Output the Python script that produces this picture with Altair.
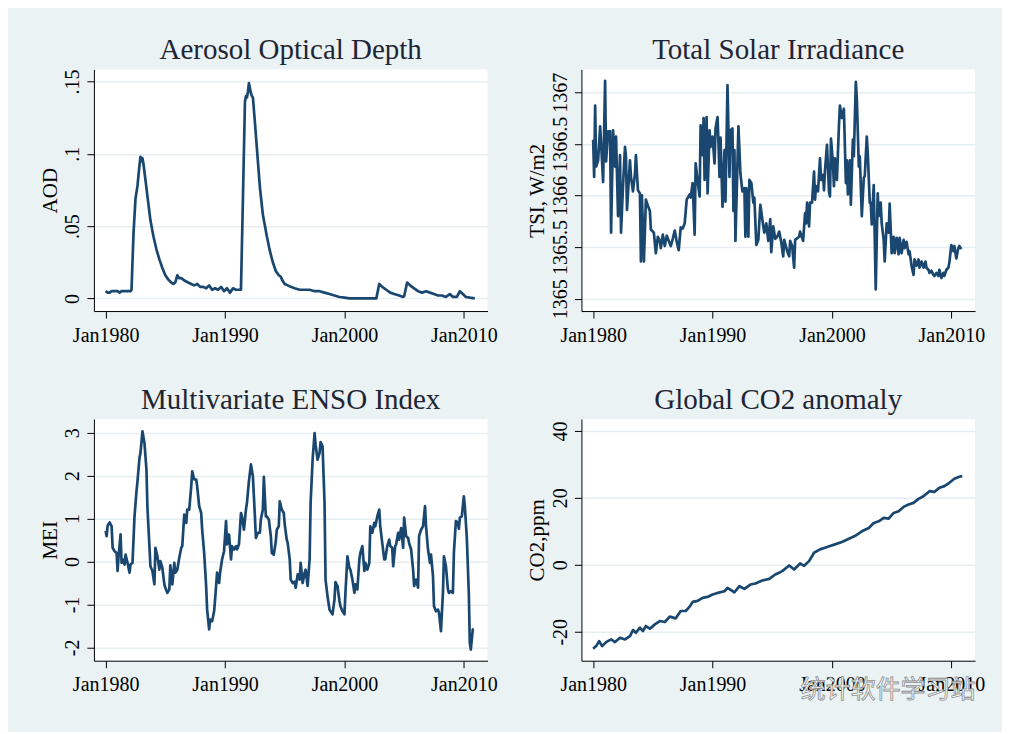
import altair as alt
import pandas as pd

# ---------------- data (month index: 0 = Jan1980) ----------------
AOD_T = [0, 2, 4, 6, 9, 12, 14, 16, 19, 22, 25, 26, 28, 30, 32, 34, 35, 36, 37, 38, 40, 43, 45, 48, 51,
         54, 57, 60, 63, 66, 68, 70, 72, 74, 76, 78, 80, 83, 86, 89, 92, 95, 98, 101, 104, 107, 110, 113,
         116, 119, 122, 125, 128, 131, 134, 136, 138, 140, 141, 142, 143, 144, 146, 147, 148, 150, 152,
         155, 158, 162, 165, 168, 171, 174, 176, 178, 180, 183, 186, 190, 195, 200, 205, 210, 215, 220,
         225, 230, 235, 240, 245, 255, 265, 272, 275, 278, 282, 286, 290, 295, 299, 300, 303, 306, 310,
         314, 318, 322, 326, 330, 334, 338, 342, 346, 349, 353, 356, 359, 362, 366, 371]
AOD_V = [0.005, 0.004, 0.004, 0.005, 0.005, 0.005, 0.004, 0.005, 0.005, 0.005, 0.005, 0.006, 0.045,
         0.069, 0.078, 0.092, 0.098, 0.095, 0.097, 0.093, 0.082, 0.065, 0.054, 0.043, 0.034, 0.027,
         0.021, 0.016, 0.013, 0.011, 0.010, 0.011, 0.016, 0.014, 0.014, 0.013, 0.012, 0.011, 0.010,
         0.009, 0.010, 0.008, 0.008, 0.007, 0.009, 0.006, 0.007, 0.006, 0.008, 0.005, 0.007, 0.004,
         0.007, 0.006, 0.006, 0.006, 0.070, 0.136, 0.140, 0.139, 0.143, 0.149, 0.142, 0.140, 0.139,
         0.122, 0.104, 0.077, 0.058, 0.043, 0.033, 0.025, 0.019, 0.016, 0.015, 0.012, 0.010, 0.009,
         0.008, 0.007, 0.006, 0.006, 0.006, 0.005, 0.005, 0.004, 0.003, 0.002, 0.001, 0.0005, 0.0,
         0.0, 0.0, 0.0, 0.010, 0.008, 0.006, 0.004, 0.003, 0.002, 0.001, 0.0015, 0.011, 0.009, 0.007,
         0.005, 0.004, 0.005, 0.004, 0.003, 0.002, 0.002, 0.001, 0.003, 0.001, 0.001, 0.005, 0.003,
         0.001, 0.0005, 0.0]

TSI_T = [0, 1, 2, 3, 5, 7, 8, 10, 12, 13, 15, 17, 18, 20, 22, 23, 25, 27, 28, 30, 32, 33, 34, 37, 38,
         40, 42, 43, 45, 47, 48, 49, 51, 53, 55, 57, 58, 61, 63, 65, 67, 68, 70, 72, 74, 76, 78, 80, 82,
         84, 86, 88, 90, 92, 94, 97, 98, 100, 102, 103, 105, 107, 108, 110, 111, 112, 114, 115, 117,
         118, 120, 122, 123, 125, 126, 127, 128, 130, 132, 133, 135, 137, 138, 140, 141, 142, 143, 146,
         148, 150, 152, 153, 154, 156, 157, 159, 161, 162, 164, 166, 168, 171, 172, 174, 176, 178, 179,
         181, 183, 185, 187, 189, 191, 192, 195, 197, 198, 200, 202, 203, 207, 208, 211, 213, 214, 215,
         217, 218, 220, 222, 223, 224, 226, 228, 229, 231, 232, 233, 235, 237, 238, 239, 241, 242, 243,
         245, 247, 248, 250, 251, 252, 254, 255, 256, 258, 259, 261, 262, 264, 265, 267, 268, 270, 272,
         273, 275, 276, 278, 279, 280, 282, 284, 286, 287, 289, 290, 292, 293, 295, 297, 298, 300, 302,
         303, 305, 307, 308, 310, 312, 313, 315, 317, 318, 320, 322, 323, 325, 327, 328, 330, 332, 334,
         335, 337, 338, 340, 342, 343, 345, 347, 348, 350, 352, 353, 355, 357, 358, 360, 362, 363, 365,
         367, 368, 370]
TSI_V = [1366.54, 1366.18, 1366.87, 1366.28, 1366.34, 1366.67, 1366.50, 1366.13, 1367.11, 1366.33,
         1366.62, 1366.62, 1365.64, 1366.63, 1366.28, 1366.57, 1365.80, 1366.39, 1365.64, 1366.09,
         1366.47, 1366.37, 1365.86, 1366.34, 1366.18, 1366.04, 1366.21, 1366.39, 1366.05, 1366.02,
         1365.36, 1366.00, 1365.36, 1365.96, 1365.90, 1365.85, 1365.67, 1365.64, 1365.44, 1365.60,
         1365.56, 1365.49, 1365.62, 1365.51, 1365.61, 1365.56, 1365.51, 1365.58, 1365.66, 1365.55,
         1365.47, 1365.69, 1365.68, 1365.73, 1365.96, 1366.01, 1365.98, 1366.12, 1365.62, 1366.31,
         1366.14, 1365.99, 1366.68, 1366.39, 1366.75, 1366.15, 1366.76, 1366.02, 1366.63, 1366.47,
         1366.57, 1366.31, 1366.65, 1366.76, 1366.50, 1366.18, 1366.56, 1365.89, 1366.44, 1365.94,
         1367.07, 1366.18, 1366.63, 1366.65, 1365.85, 1366.44, 1365.56, 1366.67, 1366.21, 1366.04,
         1366.07, 1365.60, 1366.07, 1365.60, 1366.15, 1366.12, 1365.93, 1365.98, 1365.52, 1365.57,
         1365.91, 1365.70, 1365.64, 1365.73, 1365.56, 1365.77, 1365.45, 1365.70, 1365.58, 1365.60,
         1365.65, 1365.55, 1365.41, 1365.57, 1365.46, 1365.41, 1365.56, 1365.51, 1365.30, 1365.57,
         1365.60, 1365.65, 1365.56, 1365.83, 1365.73, 1365.93, 1365.70, 1365.93, 1365.93, 1366.23,
         1365.96, 1366.09, 1366.04, 1366.36, 1366.15, 1366.20, 1366.05, 1366.24, 1366.49, 1366.04,
         1365.99, 1366.55, 1366.31, 1366.09, 1366.36, 1366.15, 1366.67, 1366.87, 1366.75, 1366.79,
         1366.84, 1366.12, 1366.34, 1366.01, 1366.34, 1365.91, 1366.54, 1366.38, 1367.10, 1366.94,
         1366.28, 1366.38, 1365.80, 1366.17, 1366.19, 1366.57, 1366.41, 1365.93, 1365.93, 1365.72,
         1366.10, 1365.09, 1366.02, 1365.80, 1365.93, 1365.73, 1365.57, 1365.36, 1365.73, 1365.64,
         1365.92, 1365.44, 1365.60, 1365.44, 1365.59, 1365.43, 1365.59, 1365.44, 1365.57, 1365.49,
         1365.55, 1365.43, 1365.46, 1365.32, 1365.23, 1365.38, 1365.32, 1365.38, 1365.30, 1365.36,
         1365.30, 1365.36, 1365.30, 1365.28, 1365.25, 1365.27, 1365.23, 1365.22, 1365.25, 1365.22,
         1365.28, 1365.20, 1365.25, 1365.22, 1365.28, 1365.30, 1365.35, 1365.52, 1365.46, 1365.51,
         1365.39, 1365.49, 1365.51, 1365.48]

MEI_T = [0, 1, 2, 4, 6, 7, 9, 11, 12, 13, 15, 16, 17, 19, 20, 22, 24, 25, 27, 29, 31, 32, 34, 35, 37,
         39, 41, 42, 44, 45, 47, 49, 50, 52, 54, 55, 57, 59, 60, 62, 64, 65, 67, 69, 70, 72, 74, 76, 77,
         79, 81, 82, 84, 86, 87, 89, 91, 92, 94, 96, 97, 99, 101, 102, 104, 105, 107, 109, 110, 112,
         114, 115, 117, 119, 121, 122, 124, 126, 127, 129, 131, 132, 134, 136, 137, 139, 141, 142, 144,
         146, 148, 150, 151, 153, 155, 156, 158, 159, 161, 162, 164, 166, 167, 169, 171, 172, 174, 175,
         177, 179, 180, 182, 183, 185, 186, 188, 190, 191, 193, 195, 196, 198, 200, 201, 203, 205, 206,
         208, 210, 211, 213, 215, 216, 218, 220, 221, 223, 225, 226, 228, 230, 231, 233, 235, 236, 238,
         240, 241, 243, 245, 246, 248, 250, 251, 253, 255, 256, 258, 260, 261, 263, 265, 266, 268, 270,
         271, 273, 275, 276, 278, 280, 281, 283, 285, 286, 288, 289, 291, 292, 294, 295, 297, 299, 300,
         302, 304, 305, 307, 309, 310, 312, 314, 315, 317, 319, 321, 322, 324, 326, 327, 329, 330, 332,
         334, 335, 337, 339, 340, 342, 344, 345, 347, 349, 350, 352, 354, 355, 356, 358, 360, 361, 363,
         365, 366, 367, 369, 370]
MEI_V = [0.71, 0.59, 0.84, 0.91, 0.82, 0.32, 0.24, 0.20, -0.22, 0.12, 0.63, -0.03, 0.05, -0.07, 0.16,
         -0.03, -0.26, -0.07, -0.03, 1.05, 1.64, 1.87, 2.41, 2.53, 3.03, 2.76, 2.14, 1.25, 0.36, -0.11,
         -0.22, -0.53, 0.32, 0.12, -0.19, 0.01, -0.15, -0.53, -0.61, -0.73, -0.65, -0.09, -0.53, -0.03,
         -0.26, -0.19, 0.09, 0.32, 0.36, 1.09, 0.90, 1.21, 1.21, 1.75, 2.10, 1.91, 1.91, 1.75, 1.29,
         1.13, 0.74, 0.20, -0.57, -1.12, -1.58, -1.35, -1.39, -1.16, -0.88, -0.26, -0.50, -0.26, 0.05,
         0.24, 0.94, 0.40, 0.63, 0.05, 0.36, 0.28, 0.36, 0.28, 0.40, 1.13, 1.05, 0.74, 1.21, 1.36, 1.87,
         2.26, 1.98, 1.05, 0.55, 0.67, 0.67, 0.98, 1.21, 1.97, 1.05, 1.05, 0.98, 0.59, 0.20, 0.16, 0.47,
         0.74, 0.82, 1.40, 1.21, 1.13, 0.86, 0.51, 0.43, 0.05, -0.42, -0.50, -0.47, -0.61, -0.30, -0.42,
         -0.03, -0.50, -0.26, -0.19, -0.57, 0.05, 1.36, 2.37, 2.99, 2.72, 2.37, 2.53, 2.78, 2.68, 1.36,
         -0.42, -0.81, -1.12, -1.16, -1.23, -0.88, -0.48, -0.57, -0.92, -1.04, -1.16, -1.23, -0.73,
         0.12, -0.15, -0.19, -0.42, -0.73, -0.53, -0.65, 0.05, 0.20, 0.36, -0.22, -0.03, -0.19, -0.03,
         0.82, 0.67, 0.90, 0.82, 1.05, 1.21, 0.82, 0.43, 0.05, 0.05, 0.36, 0.51, 0.36, 0.32, -0.11, 0.36,
         0.40, 0.67, 0.51, 0.78, 0.32, 1.02, 0.59, 0.55, 0.43, 0.28, -0.19, -0.57, -0.42, -0.61, 0.59,
         0.74, 0.82, 1.29, 0.82, 0.28, -0.03, 0.16, -0.34, -1.04, -1.16, -1.12, -1.19, -1.62, -0.73,
         0.12, -0.11, -0.65, -0.73, -0.69, -0.73, 0.20, 0.94, 0.90, 0.76, 1.02, 1.05, 1.52, 1.29, 0.55,
         -0.73, -1.89, -2.05, -1.58, -1.57]

CO2_T = [0, 3, 6, 9, 13, 18, 22, 27, 32, 37, 40, 43, 47, 50, 53, 57, 62, 67, 72, 77, 83, 88, 93, 97,
         100, 105, 110, 115, 120, 125, 132, 135, 142, 147, 152, 158, 163, 170, 177, 183, 188, 190, 197,
         202, 208, 212, 217, 222, 228, 233, 238, 243, 250, 257, 263, 270, 277, 282, 287, 292, 297, 302,
         307, 312, 317, 322, 327, 332, 338, 343, 348, 353, 358, 363, 368, 371]
CO2_V = [-25.1, -24.3, -22.8, -24.3, -23.1, -22.3, -23.1, -21.8, -22.3, -21.3, -19.5, -20.3, -18.8,
         -19.8, -18.3, -19.1, -17.8, -16.8, -17.1, -15.5, -16.0, -13.8, -13.8, -12.5, -11.1, -10.8,
         -9.9, -9.6, -8.9, -8.4, -7.9, -6.9, -8.2, -6.4, -7.2, -5.9, -5.6, -4.7, -4.2, -2.9, -2.2, -1.9,
         -0.2, -1.4, 0.4, -0.3, 1.1, 3.6, 4.6, 5.1, 5.6, 6.1, 6.8, 7.8, 8.6, 10.0, 11.0, 12.5, 13.0,
         14.0, 13.8, 15.5, 16.0, 17.3, 18.0, 18.5, 19.7, 20.5, 22.0, 21.8, 23.0, 23.5, 24.5, 25.7,
         26.3, 26.5]

X_TICKS = [0, 120, 240, 360]
X_LABELS = ["Jan1980", "Jan1990", "Jan2000", "Jan2010"]

TITLES = ["Aerosol Optical Depth", "Total Solar Irradiance", "Multivariate ENSO Index", "Global CO2 anomaly"]
Y_TITLES = ["AOD", "TSI, W/m2", "MEI", "CO2,ppm"]
AOD_TICKS = [0, 0.05, 0.1, 0.15]
AOD_LABELS = ["0", ".05", ".1", ".15"]
TSI_TICKS = [1365, 1365.5, 1366, 1366.5, 1367]
TSI_LABELS = ["1365", "1365.5", "1366", "1366.5", "1367"]
MEI_TICKS = [-2, -1, 0, 1, 2, 3]
MEI_LABELS = ["-2", "-1", "0", "1", "2", "3"]
CO2_TICKS = [-20, 0, 20, 40]
CO2_LABELS = ["-20", "0", "20", "40"]
WATERMARK = ["统计软件学习站"]

# ---------------- style ----------------
BG = "#eaf2f3"
GRID = "#e6eef1"
LINE = "#1a476f"
SERIF = "Liberation Serif"
TITLE_COLOR = "#1e2536"
W = 394
H = 242
X_DOMAIN = [-11.8, 383.8]


def label_expr(values, labels):
    expr = "''"
    for v, l in reversed(list(zip(values, labels))):
        expr = f"abs(datum.value - ({v})) < 1e-6 ? '{l}' : ({expr})"
    return expr


def panel(t, v, title, ytitle, ydomain, yticks, ylabels):
    df = pd.DataFrame({"t": t, "v": v})
    return alt.Chart(df).mark_line(
        color=LINE, strokeWidth=2.7, strokeJoin="round", clip=True
    ).encode(
        x=alt.X("t:Q",
                scale=alt.Scale(domain=X_DOMAIN, nice=False, zero=False),
                axis=alt.Axis(values=X_TICKS, labelExpr=label_expr(X_TICKS, X_LABELS),
                              title=None, grid=False, tickSize=7, labelPadding=7,
                              labelFont=SERIF, labelFontSize=20, labelColor="black",
                              domainColor="black", tickColor="black", labelFlush=False,
                              labelOverlap=False)),
        y=alt.Y("v:Q",
                scale=alt.Scale(domain=ydomain, nice=False, zero=False),
                axis=alt.Axis(values=yticks, labelExpr=label_expr(yticks, ylabels),
                              title=ytitle, grid=True, gridColor=GRID, gridWidth=1.5,
                              tickSize=7, labelPadding=4, labelAngle=270,
                              labelAlign="center", labelBaseline="bottom",
                              labelFont=SERIF, labelFontSize=20, labelColor="black",
                              labelFlush=False, labelOverlap=False,
                              domainColor="black", tickColor="black",
                              titleFont=SERIF, titleFontSize=21, titleFontWeight="normal",
                              titleColor="black", titleAngle=270, titleX=-37.5, titleY=H / 2,
                              titleAlign="center", titleBaseline="alphabetic")),
    ).properties(
        width=W, height=H,
        title=alt.Title(title, font=SERIF, fontSize=29, fontWeight="normal", color=TITLE_COLOR,
                        anchor="middle", frame="group", offset=-25, baseline="bottom"),
    )


p_aod = panel(AOD_T, AOD_V, TITLES[0], Y_TITLES[0], [-0.00875, 0.1585], AOD_TICKS, AOD_LABELS)
p_tsi = panel(TSI_T, TSI_V, TITLES[1], Y_TITLES[1], [1364.88, 1367.222], TSI_TICKS, TSI_LABELS)
p_mei = panel(MEI_T, MEI_V, TITLES[2], Y_TITLES[2], [-2.309, 3.319], MEI_TICKS, MEI_LABELS)
p_co2_line = panel(CO2_T, CO2_V, TITLES[3], Y_TITLES[3], [-28.66, 43.58], CO2_TICKS, CO2_LABELS)

wm = alt.Chart(pd.DataFrame({"txt": WATERMARK})).mark_text(
    font="Noto Sans CJK SC", fontSize=25, fill="white", stroke="#8c8c8c", strokeWidth=0.8,
    align="center", baseline="middle", clip=False
).encode(text="txt:N", x=alt.value(307), y=alt.value(271))

p_co2 = alt.layer(p_co2_line, wm)

chart = alt.concat(
    p_aod, p_tsi, p_mei, p_co2, columns=2,
    spacing={"row": 108, "column": 94}, bounds="flush"
).configure(
    background=BG,
    padding={"left": 31, "top": 27, "right": 17, "bottom": 29},
).configure_view(
    fill="white", strokeWidth=0
)

chart.save("out.html", embed_options={"renderer": "svg", "actions": False})
